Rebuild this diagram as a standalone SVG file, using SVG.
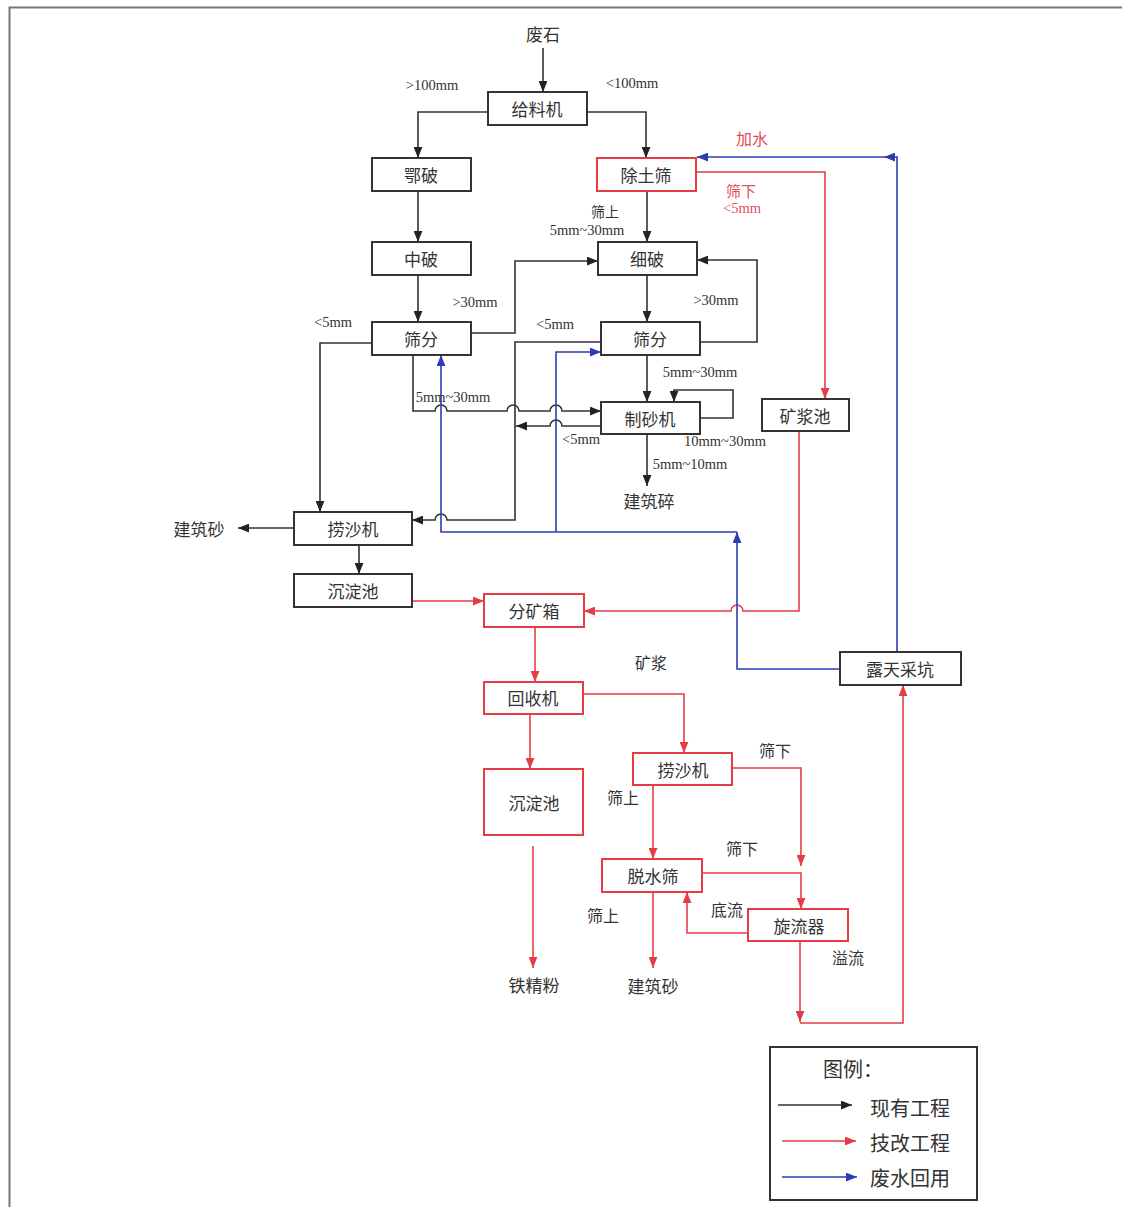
<svg xmlns="http://www.w3.org/2000/svg" width="1122" height="1207" viewBox="0 0 1122 1207">
<defs>
<marker id="ak" viewBox="0 0 10 8" refX="10" refY="4" markerWidth="11" markerHeight="9" markerUnits="userSpaceOnUse" orient="auto"><path d="M0,0 L10,4 L0,8 Z" fill="#222"/></marker>
<marker id="ar" viewBox="0 0 10 8" refX="10" refY="4" markerWidth="11" markerHeight="9" markerUnits="userSpaceOnUse" orient="auto"><path d="M0,0 L10,4 L0,8 Z" fill="#e63c46"/></marker>
<marker id="ab" viewBox="0 0 10 8" refX="10" refY="4" markerWidth="11" markerHeight="9" markerUnits="userSpaceOnUse" orient="auto"><path d="M0,0 L10,4 L0,8 Z" fill="#2d3cb4"/></marker>
</defs>
<style>
.bx{fill:#fff;stroke:#333;stroke-width:2}
.rbx{fill:#fff;stroke:#e63c46;stroke-width:2}
.t{font-family:"Noto Sans CJK SC",sans-serif;font-size:17px;fill:#333;text-anchor:middle;dominant-baseline:central}
.s{font-family:"Liberation Serif","Noto Sans CJK SC",serif;font-size:14.5px;fill:#333;text-anchor:middle;dominant-baseline:central}
.sr{fill:#e0505a}
.k{fill:none;stroke:#333;stroke-width:1.6}
.r{fill:none;stroke:#e63c46;stroke-width:1.6}
.b{fill:none;stroke:#2d3cb4;stroke-width:1.6}
.lg{font-family:"Noto Sans CJK SC",sans-serif;font-size:20px;fill:#333;dominant-baseline:central}
</style>
<rect width="1122" height="1207" fill="#fff"/>
<path d="M9.5,1207 V7.5 H1122" fill="none" stroke="#777" stroke-width="2"/>

<g id="connectors">
<!-- black -->
<path class="k" d="M543,48 V92" marker-end="url(#ak)"/>
<path class="k" d="M488,112 H418 V158" marker-end="url(#ak)"/>
<path class="k" d="M587,112 H646 V158" marker-end="url(#ak)"/>
<path class="k" d="M418,191 V242" marker-end="url(#ak)"/>
<path class="k" d="M418,275 V322" marker-end="url(#ak)"/>
<path class="k" d="M471,333 H515 V261 H598" marker-end="url(#ak)"/>
<path class="k" d="M372,343 H320 V512" marker-end="url(#ak)"/>
<path class="k" d="M413,355 V411 H435 a6,6 0 0 1 12,0 H507 a6,6 0 0 1 12,0 H550 a6,6 0 0 1 12,0 H601" marker-end="url(#ak)"/>
<path class="k" d="M647,191 V242" marker-end="url(#ak)"/>
<path class="k" d="M647,275 V322" marker-end="url(#ak)"/>
<path class="k" d="M700,342 H757 V260 H697" marker-end="url(#ak)"/>
<path class="k" d="M601,342 H515 V520 H447 a6,6 0 0 0 -12,0 H412" marker-end="url(#ak)"/>
<path class="k" d="M647,355 V402" marker-end="url(#ak)"/>
<path class="k" d="M700,418 H733 V390 H674 V402" marker-end="url(#ak)"/>
<path class="k" d="M601,426 H562 a6,6 0 0 0 -12,0 H516" marker-end="url(#ak)"/>
<path class="k" d="M647,434 V486" marker-end="url(#ak)"/>
<path class="k" d="M294,528 H238" marker-end="url(#ak)"/>
<path class="k" d="M359,545 V574" marker-end="url(#ak)"/>
<!-- red -->
<path class="r" d="M412,601 H484" marker-end="url(#ar)"/>
<path class="r" d="M696,172 H825 V399" marker-end="url(#ar)"/>
<path class="r" d="M799,431 V611 H743 a6,6 0 0 0 -12,0 H584" marker-end="url(#ar)"/>
<path class="r" d="M535,627 V682" marker-end="url(#ar)"/>
<path class="r" d="M583,694 H684 V753" marker-end="url(#ar)"/>
<path class="r" d="M530,714 V769" marker-end="url(#ar)"/>
<path class="r" d="M533,846 V968" marker-end="url(#ar)"/>
<path class="r" d="M732,768 H801 V866" marker-end="url(#ar)"/>
<path class="r" d="M653,785 V859" marker-end="url(#ar)"/>
<path class="r" d="M702,873 H801 V909" marker-end="url(#ar)"/>
<path class="r" d="M748,933 H687 V892" marker-end="url(#ar)"/>
<path class="r" d="M653,892 V968" marker-end="url(#ar)"/>
<path class="r" d="M800,941 V1022" marker-end="url(#ar)"/>
<path class="r" d="M800,1023 H903 V685" marker-end="url(#ar)"/>
<!-- blue -->
<path class="b" d="M897,652 V157 H884" marker-end="url(#ab)"/>
<path class="b" d="M884,157 H697" marker-end="url(#ab)"/>
<path class="b" d="M840,669 H737 V532" marker-end="url(#ab)"/>
<path class="b" d="M737,532 H441 V355" marker-end="url(#ab)"/>
<path class="b" d="M556,532 V352 H601" marker-end="url(#ab)"/>
</g>

<g id="n-feishi"><text class="t" x="543" y="33">废石</text></g>
<g id="n-geiliaoji"><rect class="bx" x="488" y="92" width="99" height="33"/><text class="t" x="537" y="108">给料机</text></g>
<g id="n-epo"><rect class="bx" x="372" y="158" width="99" height="33"/><text class="t" x="421" y="174">鄂破</text></g>
<g id="n-chutushai"><rect class="rbx" x="597" y="158" width="99" height="33"/><text class="t" x="646" y="174">除土筛</text></g>
<g id="n-zhongpo"><rect class="bx" x="372" y="242" width="99" height="33"/><text class="t" x="421" y="258">中破</text></g>
<g id="n-xipo"><rect class="bx" x="598" y="242" width="99" height="33"/><text class="t" x="647" y="258">细破</text></g>
<g id="n-shaifen1"><rect class="bx" x="372" y="322" width="99" height="33"/><text class="t" x="421" y="338">筛分</text></g>
<g id="n-shaifen2"><rect class="bx" x="601" y="322" width="99" height="33"/><text class="t" x="650" y="338">筛分</text></g>
<g id="n-zhishaji"><rect class="bx" x="601" y="402" width="99" height="32"/><text class="t" x="650" y="418">制砂机</text></g>
<g id="n-kuangjiangchi"><rect class="bx" x="762" y="399" width="87" height="32"/><text class="t" x="805" y="415">矿浆池</text></g>
<g id="n-laoshaji1"><rect class="bx" x="294" y="512" width="118" height="33"/><text class="t" x="353" y="528">捞沙机</text></g>
<g id="n-chendianchi1"><rect class="bx" x="294" y="574" width="118" height="33"/><text class="t" x="353" y="590">沉淀池</text></g>
<g id="n-fenkuangxiang"><rect class="rbx" x="484" y="594" width="100" height="33"/><text class="t" x="534" y="610">分矿箱</text></g>
<g id="n-lutiancaikeng"><rect class="bx" x="840" y="652" width="121" height="33"/><text class="t" x="900" y="668">露天采坑</text></g>
<g id="n-huishouji"><rect class="rbx" x="484" y="682" width="99" height="32"/><text class="t" x="533" y="697">回收机</text></g>
<g id="n-chendianchi2"><rect class="rbx" x="484" y="769" width="99" height="66"/><text class="t" x="534" y="802">沉淀池</text></g>
<g id="n-laoshaji2"><rect class="rbx" x="633" y="753" width="99" height="32"/><text class="t" x="683" y="769">捞沙机</text></g>
<g id="n-tuoshuishai"><rect class="rbx" x="602" y="859" width="100" height="33"/><text class="t" x="653" y="875">脱水筛</text></g>
<g id="n-xuanliuqi"><rect class="rbx" x="748" y="909" width="100" height="32"/><text class="t" x="799" y="925">旋流器</text></g>
<g id="n-jianzhusui"><text class="t" x="649" y="500">建筑碎</text></g>
<g id="n-jianzhusha1"><text class="t" x="199" y="528">建筑砂</text></g>
<g id="n-tiejingfen"><text class="t" x="534" y="984">铁精粉</text></g>
<g id="n-jianzhusha2"><text class="t" x="653" y="985">建筑砂</text></g>

<g id="labels">
<text class="s" x="432" y="85">&gt;100mm</text>
<text class="s" x="632" y="83">&lt;100mm</text>
<text class="t sr" x="752" y="138" style="font-size:16px">加水</text>
<text class="t sr" x="741" y="190" style="font-size:15px">筛下</text>
<text class="s sr" x="742" y="208">&lt;5mm</text>
<text class="t" x="605" y="211" style="font-size:14px">筛上</text>
<text class="s" x="587" y="230">5mm~30mm</text>
<text class="s" x="475" y="302">&gt;30mm</text>
<text class="s" x="333" y="322">&lt;5mm</text>
<text class="s" x="555" y="324">&lt;5mm</text>
<text class="s" x="716" y="300">&gt;30mm</text>
<text class="s" x="700" y="372">5mm~30mm</text>
<text class="s" x="453" y="397">5mm~30mm</text>
<text class="s" x="581" y="439">&lt;5mm</text>
<text class="s" x="725" y="441">10mm~30mm</text>
<text class="s" x="690" y="464">5mm~10mm</text>
<text class="t" x="651" y="662" style="font-size:16px">矿浆</text>
<text class="t" x="775" y="750" style="font-size:16px">筛下</text>
<text class="t" x="623" y="797" style="font-size:16px">筛上</text>
<text class="t" x="742" y="848" style="font-size:16px">筛下</text>
<text class="t" x="727" y="909" style="font-size:16px">底流</text>
<text class="t" x="603" y="915" style="font-size:16px">筛上</text>
<text class="t" x="848" y="957" style="font-size:16px">溢流</text>
</g>

<g id="legend">
<rect x="770" y="1047" width="207" height="153" fill="#fff" stroke="#333" stroke-width="2"/>
<text class="lg" x="823" y="1068">图例：</text>
<line x1="778" y1="1105" x2="852" y2="1105" stroke="#333" stroke-width="1.6" marker-end="url(#ak)"/>
<text class="lg" x="870" y="1107">现有工程</text>
<line x1="782" y1="1141" x2="856" y2="1141" stroke="#e63c46" stroke-width="1.6" marker-end="url(#ar)"/>
<text class="lg" x="870" y="1142">技改工程</text>
<line x1="782" y1="1177" x2="857" y2="1177" stroke="#2d3cb4" stroke-width="1.6" marker-end="url(#ab)"/>
<text class="lg" x="870" y="1177">废水回用</text>
</g>
</svg>
